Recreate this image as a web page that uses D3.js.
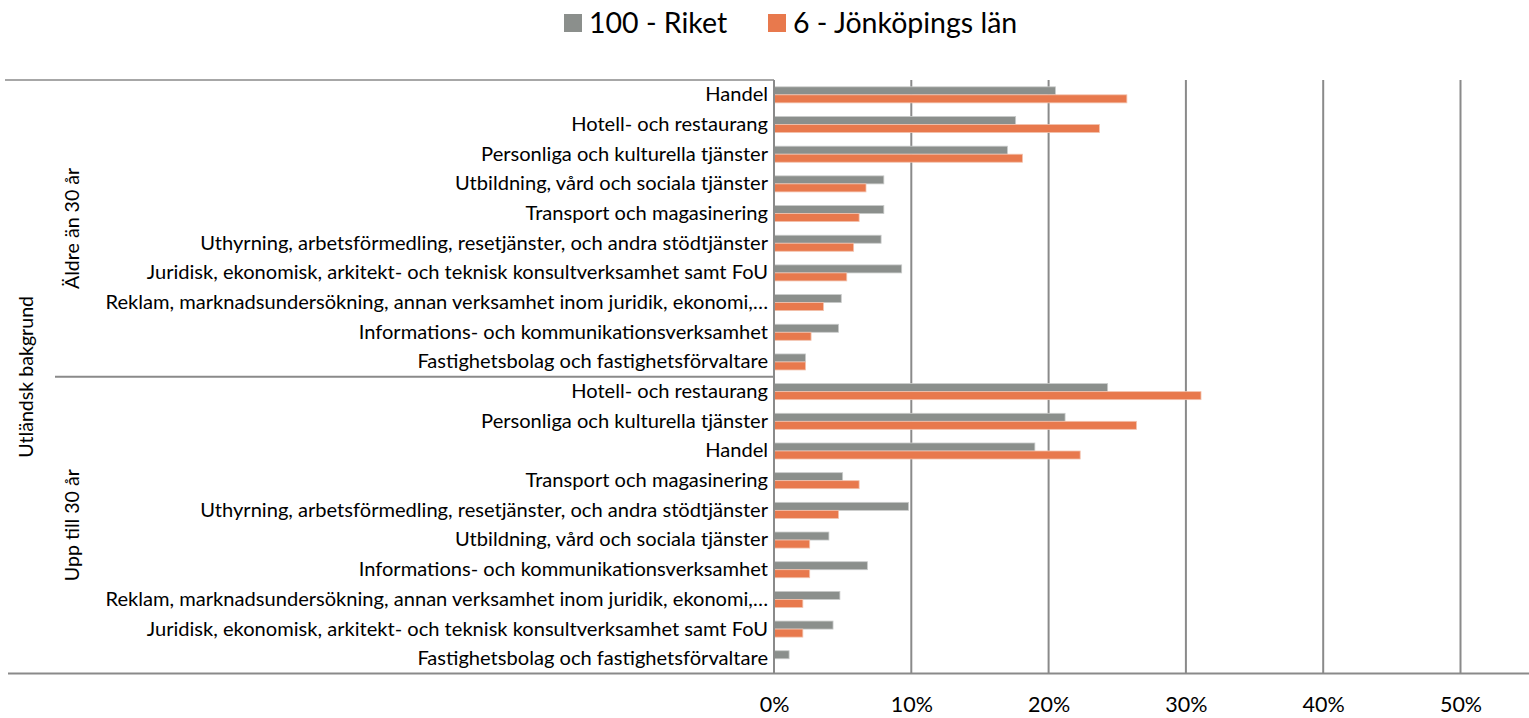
<!DOCTYPE html>
<html>
<head>
<meta charset="utf-8">
<script src="https://cdn.jsdelivr.net/npm/d3@7"></script>
<style>
  html, body { margin: 0; padding: 0; background: #fff; }
  svg { display: block; }
  text { font-family: Lato, "Open Sans", sans-serif; fill: #000; }
</style>
</head>
<body>
<svg id="chart" width="1529" height="718"></svg>
<script>
// Group labels (outer category level)
const groups = ["Äldre än 30 år", "Upp till 30 år"];
const outerLabel = "Utländsk bakgrund";

// Industry categories per group, top to bottom
const categoriesOlder = [
  "Handel",
  "Hotell- och restaurang",
  "Personliga och kulturella tjänster",
  "Utbildning, vård och sociala tjänster",
  "Transport och magasinering",
  "Uthyrning, arbetsförmedling, resetjänster, och andra stödtjänster",
  "Juridisk, ekonomisk, arkitekt- och teknisk konsultverksamhet samt FoU",
  "Reklam, marknadsundersökning, annan verksamhet inom juridik, ekonomi,…",
  "Informations- och kommunikationsverksamhet",
  "Fastighetsbolag och fastighetsförvaltare"
];
const categoriesYounger = [
  "Hotell- och restaurang",
  "Personliga och kulturella tjänster",
  "Handel",
  "Transport och magasinering",
  "Uthyrning, arbetsförmedling, resetjänster, och andra stödtjänster",
  "Utbildning, vård och sociala tjänster",
  "Informations- och kommunikationsverksamhet",
  "Reklam, marknadsundersökning, annan verksamhet inom juridik, ekonomi,…",
  "Juridisk, ekonomisk, arkitekt- och teknisk konsultverksamhet samt FoU",
  "Fastighetsbolag och fastighetsförvaltare"
];

// Series names
const seriesNames = ["100 - Riket", "6 - Jönköpings län"];

// Shares (fraction of employed) per series, same order as the category lists
const riketOlder     = [0.205, 0.176, 0.170, 0.080, 0.080, 0.078, 0.093, 0.049, 0.047, 0.023];
const jonkopingOlder = [0.257, 0.237, 0.181, 0.067, 0.062, 0.058, 0.053, 0.036, 0.027, 0.023];
const riketYounger     = [0.243, 0.212, 0.190, 0.050, 0.098, 0.040, 0.068, 0.048, 0.043, 0.011];
const jonkopingYounger = [0.311, 0.264, 0.223, 0.062, 0.047, 0.026, 0.026, 0.021, 0.021, 0.000];

// Axis ticks
const tickValues = [0, 0.1, 0.2, 0.3, 0.4, 0.5];

const colors = ["#8b8f8c", "#e8794d"];

// Build row table: one row per (group, category)
const rows = [];
categoriesOlder.forEach((c, i) => rows.push({ key: "0|" + i, group: 0, cat: c, values: [riketOlder[i], jonkopingOlder[i]] }));
categoriesYounger.forEach((c, i) => rows.push({ key: "1|" + i, group: 1, cat: c, values: [riketYounger[i], jonkopingYounger[i]] }));

const svg = d3.select("#chart");

const plotTop = 80, plotBottom = 673.6;
const x = d3.scaleLinear().domain([0, 0.5]).range([774, 1460.5]);
const y = d3.scaleBand()
  .domain(rows.map(r => r.key))
  .range([plotTop, plotBottom])
  .paddingInner(0.46)
  .paddingOuter(0.23);
const ySub = d3.scaleBand().domain([0, 1]).range([0, y.bandwidth()]);

const lineColor = "#8a8a8a";
const labelSize = 20.1;

// Vertical gridlines
svg.append("g")
  .selectAll("line")
  .data(tickValues.slice(1))
  .join("line")
  .attr("x1", d => x(d)).attr("x2", d => x(d))
  .attr("y1", plotTop).attr("y2", plotBottom)
  .attr("stroke", lineColor)
  .attr("stroke-width", 2);

// Bars
const rowG = svg.append("g")
  .selectAll("g")
  .data(rows)
  .join("g")
  .attr("transform", r => `translate(0,${y(r.key)})`);

rowG.selectAll("rect")
  .data(r => r.values.map((v, s) => ({ v, s })))
  .join("rect")
  .attr("x", x(0))
  .attr("y", d => ySub(d.s))
  .attr("width", d => x(d.v) - x(0))
  .attr("height", ySub.bandwidth())
  .attr("fill", d => colors[d.s])
  .attr("stroke", d => d.s === 0 ? "#c9cbca" : "#f3c2ad")
  .attr("stroke-width", 0.8);

// Category axis lines (left structure)
const axisG = svg.append("g");
axisG.append("line") // value axis baseline at 0%
  .attr("x1", x(0)).attr("x2", x(0))
  .attr("y1", plotTop).attr("y2", plotBottom)
  .attr("stroke", lineColor).attr("stroke-width", 2);
axisG.append("line") // top border of category area
  .attr("x1", 5).attr("x2", x(0))
  .attr("y1", plotTop).attr("y2", plotTop)
  .attr("stroke", lineColor).attr("stroke-width", 1.5);
axisG.append("line") // separator between groups
  .attr("x1", 55).attr("x2", x(0))
  .attr("y1", y("1|0") - y.step() * y.paddingInner() / 2)
  .attr("y2", y("1|0") - y.step() * y.paddingInner() / 2)
  .attr("stroke", lineColor).attr("stroke-width", 2);
axisG.append("line") // bottom axis line
  .attr("x1", 8).attr("x2", 1529)
  .attr("y1", plotBottom).attr("y2", plotBottom)
  .attr("stroke", lineColor).attr("stroke-width", 2);

// Category labels
const catAxis = d3.axisLeft(y)
  .tickSize(0)
  .tickPadding(6)
  .tickFormat(k => rows.find(r => r.key === k).cat);
const catG = svg.append("g")
  .attr("transform", `translate(${x(0)},0)`)
  .call(catAxis);
catG.select(".domain").remove();
catG.selectAll("text")
  .attr("font-size", labelSize)
  .attr("font-family", null)
  .attr("fill", "#000");

// Group labels (rotated)
const groupCenters = [0, 1].map(g => {
  const ks = rows.filter(r => r.group === g).map(r => r.key);
  return (y(ks[0]) + y(ks[ks.length - 1]) + y.bandwidth()) / 2;
});
svg.append("g")
  .selectAll("text")
  .data(groups)
  .join("text")
  .attr("transform", (d, i) => `translate(79,${groupCenters[i]}) rotate(-90)`)
  .attr("text-anchor", "middle")
  .attr("font-size", 19.6)
  .text(d => d);

svg.append("text")
  .attr("transform", `translate(33,${(plotTop + plotBottom) / 2}) rotate(-90)`)
  .attr("text-anchor", "middle")
  .attr("font-size", 19.6)
  .text(outerLabel);

// Value axis labels
const valAxis = d3.axisBottom(x)
  .tickValues(tickValues)
  .tickFormat(d3.format(".0%"))
  .tickSize(0)
  .tickPadding(23);
const valG = svg.append("g")
  .attr("transform", `translate(0,${plotBottom})`)
  .call(valAxis);
valG.select(".domain").remove();
valG.selectAll("text")
  .attr("font-size", 21.5)
  .attr("font-family", null)
  .attr("fill", "#000");

// Legend
const legendItems = [
  { name: seriesNames[0], color: colors[0], x: 564 },
  { name: seriesNames[1], color: colors[1], x: 768 }
];
const lg = svg.append("g").selectAll("g").data(legendItems).join("g")
  .attr("transform", d => `translate(${d.x},14)`);
lg.append("rect").attr("width", 18).attr("height", 18).attr("fill", d => d.color);
lg.append("text").attr("x", 25).attr("y", 18.5)
  .attr("font-size", 28.5)
  .text(d => d.name);
</script>
</body>
</html>
